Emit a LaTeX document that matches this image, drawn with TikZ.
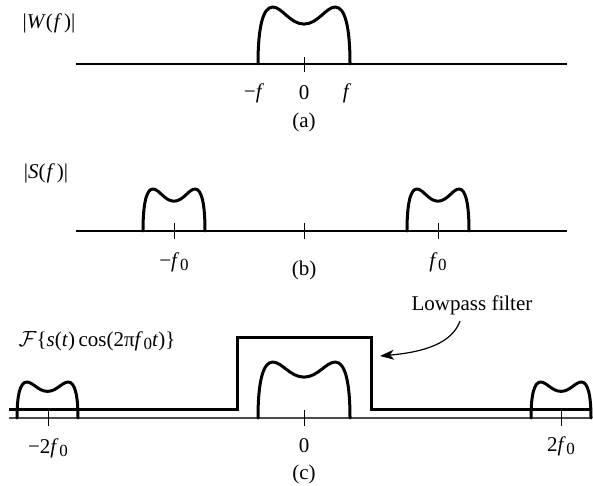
\documentclass[tikz,border=0pt]{standalone}
\usepackage{fontspec}
\setmainfont{Liberation Serif}
\usetikzlibrary{arrows.meta}
\newcommand\fz{\textit{f}\kern0.03em\raisebox{-0.35ex}{\fontsize{8.5}{9}\selectfont 0}}
\newcommand\pulseat[5]{%
  \begin{scope}[shift={(#1,#2)},xscale=#3,yscale=-#4]
    \draw[pulse] (-1,0) .. controls (-1,0.62) and (-0.9,1) .. (-0.68,1)
      .. controls (-0.48,1) and (-0.3,#5) .. (0,#5)
      .. controls (0.3,#5) and (0.48,1) .. (0.68,1)
      .. controls (0.9,1) and (1,0.62) .. (1,0);
  \end{scope}}
\begin{document}
\begin{tikzpicture}[x=0.5pt,y=-0.5pt,
  every node/.style={font=\fontsize{10.5}{12}\selectfont,inner sep=0pt},
  axisline/.style={line width=1pt},
  axisc/.style={line width=0.8pt,black!70},
  pulse/.style={line width=1.5pt,line cap=round,line join=round},
  tickline/.style={line width=0.5pt},
  filterline/.style={line width=1.5pt,line join=miter},
  arr/.style={line width=0.6pt,-{Stealth[length=7pt,width=5pt,inset=2pt]}}]
\useasboundingbox (0,0) rectangle (593,486);
% ---------- (a)
\draw[axisline] (76,64) -- (567,64);
\draw[tickline] (304,57) -- (304,72);
\pulseat{304}{64}{46}{57}{0.70}
\node (Wl) at (49,23) {|\textit{W}(\kern0.05em\textit{f}\kern0.1em)|};
\node (am) at (254,93) {−\textit{f}};
\node (a0) at (304,93) {0};
\node (ap) at (347,93) {\textit{f}};
\node (acap) at (304,122) {(a)};
% ---------- (b)
\draw[axisline] (76,231) -- (567,231);
\foreach \t in {174,304,438} \draw[tickline] (\t,223) -- (\t,239);
\pulseat{174}{231}{31}{42}{0.71}
\pulseat{438}{231}{31}{42}{0.71}
\node (Sl) at (46,173) {|\textit{S}(\kern0.05em\textit{f}\kern0.1em)|};
\node (bm) at (174,262) {−\fz};
\node (bp) at (438,262) {\fz};
\node (bcap) at (304,270) {(b)};
% ---------- (c)
\draw[axisc] (9,418) -- (591,418);
\foreach \t in {48,304,561} \draw[tickline] (\t,410) -- (\t,426);
\pulseat{47.5}{418}{30.5}{36}{0.74}
\pulseat{561}{418}{30}{36}{0.74}
\pulseat{304}{418}{46}{56}{0.73}
\draw[filterline] (9,409) -- (237,409) -- (237,337) -- (371,337) -- (371,409) -- (591,409);
\node (Fl) at (97,341) {$\mathcal{F}$\{\textit{s}(\textit{t})\,cos(2π\fz\textit{t})\}};
\node (cm) at (48,448) {−2\fz};
\node (c0) at (304,446) {0};
\node (cp) at (561,446) {2\fz};
\node (ccap) at (304,474) {(c)};
\node (lp) at (472,305) {Lowpass filter};
\coordinate (fend) at (380,356);
\draw[arr] ([xshift=-6pt,yshift=-3pt]lp.south) .. controls (452,343) and (425,352) .. (fend);
\end{tikzpicture}
\end{document}
